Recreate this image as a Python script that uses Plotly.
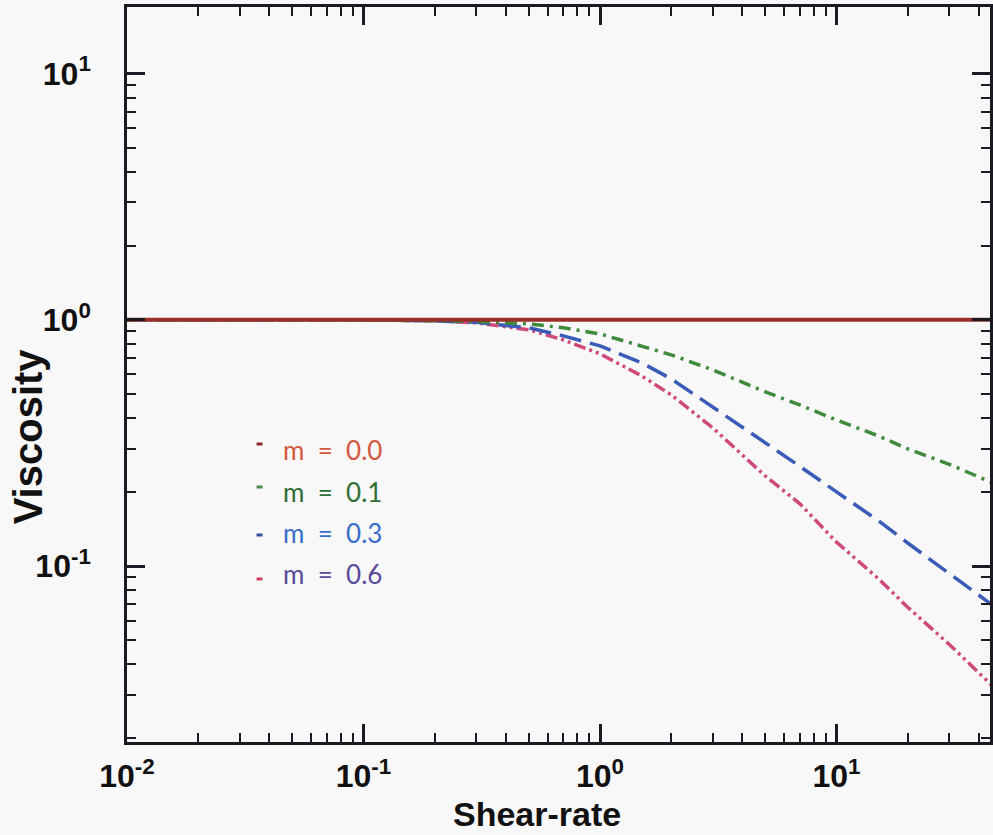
import plotly.graph_objects as go

# ---- data ----
shear_rate = [0.01, 0.1, 0.2, 0.3, 0.5, 0.7, 1, 1.5, 2, 3, 5, 7, 10, 15, 20, 30, 45]
visc_m00 = [1.0] * len(shear_rate)
visc_m01 = [1.0, 1.0, 0.991, 0.986, 0.963, 0.928, 0.877, 0.784, 0.721, 0.626, 0.510, 0.451, 0.392, 0.338, 0.299, 0.259, 0.219]
visc_m03 = [1.0, 1.0, 0.991, 0.977, 0.928, 0.861, 0.784, 0.669, 0.576, 0.443, 0.316, 0.254, 0.200, 0.153, 0.124, 0.093, 0.070]
visc_m06 = [1.0, 1.0, 0.991, 0.972, 0.911, 0.829, 0.728, 0.592, 0.496, 0.364, 0.232, 0.179, 0.125, 0.089, 0.068, 0.048, 0.033]

series_names = ["m = 0.0", "m = 0.1", "m = 0.3", "m = 0.6"]
series_values = [visc_m00, visc_m01, visc_m03, visc_m06]

x_tickvals = [0.01, 0.1, 1, 10]
x_ticktext = ["10<sup>-2</sup>", "10<sup>-1</sup>", "10<sup>0</sup>", "10<sup>1</sup>"]
y_tickvals = [0.1, 1, 10]
y_ticktext = ["10<sup>-1</sup>", "10<sup>0</sup>", "10<sup>1</sup>"]
x_minor_vals = [k * 10.0 ** d for d in (-2, -1, 0, 1) for k in range(2, 10)]
y_minor_vals = [k * 10.0 ** d for d in (-2, -1, 0, 1) for k in range(2, 10)]

# ---- styles ----
line_colors = ["#9a2f28", "#3f8a3c", "#3a5cb8", "#cf4a7a"]
line_dashes = ["solid", "12px,6px,3px,6px", "22px,9px", "12px,4px,3px,4px,3px,4px"]
line_widths = [4, 3.5, 3.5, 3.5]
label_colors = ["#d4573c", "#2f6e35", "#3a6cc9", "#5a4a9a"]
marker_colors = ["#8b2a2a", "#4a8a4a", "#3050a0", "#d04060"]

W, H = 993, 835
L, R, T, B = 127, 0, 7, 93
pw, ph = W - L - R, H - T - B

def px2paper(px, py):
    return (px - L) / pw, (H - B - py) / ph

fig = go.Figure()
order = [3, 2, 1, 0]
for i in order:
    fig.add_trace(go.Scatter(
        x=shear_rate, y=series_values[i], mode="lines", name=series_names[i],
        line=dict(color=line_colors[i], width=line_widths[i], dash=line_dashes[i]),
        showlegend=False,
    ))

annotations = []
shapes = []
legend_y = [450, 492, 533, 574]
marker_y = [444, 487, 535, 579]
for i, name in enumerate(series_names):
    ax, ay = px2paper(282, legend_y[i])
    annotations.append(dict(
        x=ax, y=ay, xref="paper", yref="paper", xanchor="left", yanchor="middle",
        text=name.replace(" ", "\u00a0\u00a0"), showarrow=False,
        font=dict(family="Lato, Noto Sans, sans-serif", size=26, color=label_colors[i]),
    ))
    x0, y0 = px2paper(257, marker_y[i])
    x1, _ = px2paper(263, marker_y[i])
    shapes.append(dict(type="line", xref="paper", yref="paper", x0=x0, x1=x1, y0=y0, y1=y0,
                       line=dict(color=marker_colors[i], width=3)))

tx, ty = px2paper(538, 834)
annotations.append(dict(x=tx, y=ty, xref="paper", yref="paper", text="<b>Shear-rate</b>",
                        showarrow=False, xanchor="center", yanchor="bottom", borderpad=0,
                        font=dict(family="Liberation Sans, Arial, sans-serif", size=34, color="#111")))
vx, vy = px2paper(28, 436)
annotations.append(dict(x=vx, y=vy, xref="paper", yref="paper", text="<b>Viscosity</b>",
                        showarrow=False, xanchor="center", yanchor="middle", textangle=-90,
                        font=dict(family="Liberation Sans, Arial, sans-serif", size=40, color="#111")))

axis_common = dict(
    type="log", showgrid=False, zeroline=False,
    showline=True, linecolor="#1a1a22", linewidth=2.5, mirror="ticks",
    ticks="inside", ticklen=18, tickwidth=2.5, tickcolor="#1a1a22",
    tickfont=dict(family="Liberation Sans, Arial, sans-serif", size=32, color="#111", weight="bold"),
)

fig.update_layout(
    width=W, height=H,
    margin=dict(l=L, r=R, t=T, b=B),
    paper_bgcolor="#f8f8f8", plot_bgcolor="#f8f8f8",
    xaxis=dict(range=[-2, 1.649], tickvals=x_tickvals, ticktext=x_ticktext, ticklabelstandoff=4,
               minor=dict(tickmode="array", tickvals=x_minor_vals, ticks="inside", ticklen=9,
                          tickwidth=1.8, tickcolor="#1a1a22", showgrid=False),
               **axis_common),
    yaxis=dict(range=[-1.715, 1.271], tickvals=y_tickvals, ticktext=y_ticktext, ticklabelstandoff=27,
               minor=dict(tickmode="array", tickvals=y_minor_vals, ticks="inside", ticklen=9,
                          tickwidth=1.8, tickcolor="#1a1a22", showgrid=False),
               **axis_common),
    annotations=annotations, shapes=shapes, showlegend=False,
)

fig.write_html("out.html")
